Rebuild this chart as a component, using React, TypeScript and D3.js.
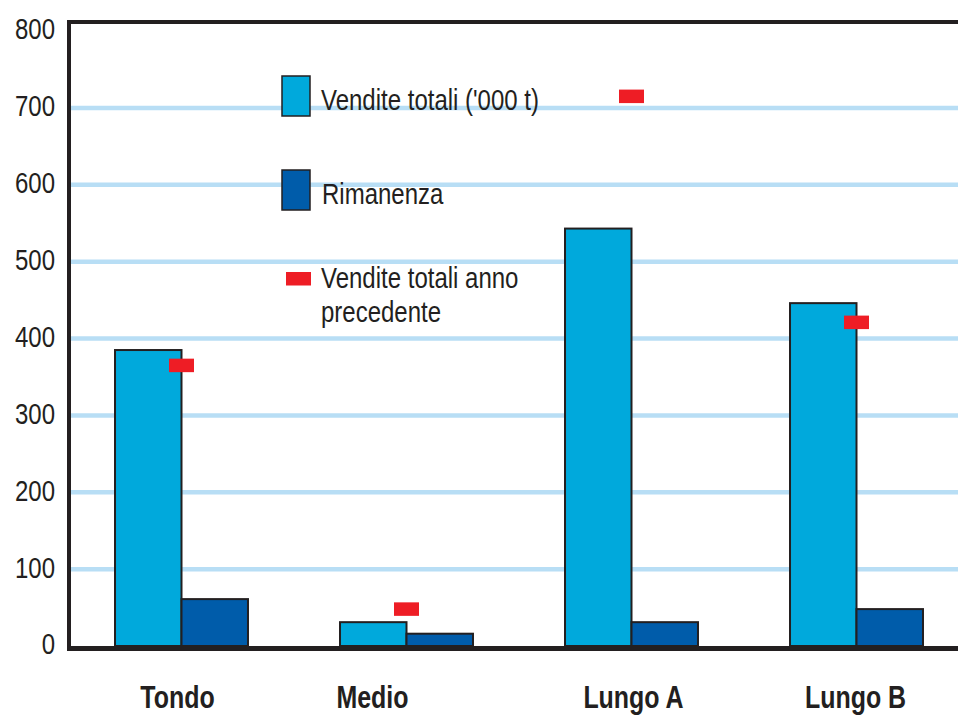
import React from "react";
import * as d3 from "d3";

// Categories and series (thousand tonnes)
const categories = ["Tondo", "Medio", "Lungo A", "Lungo B"];
const venditeTotali = [385, 31, 543, 446];
const rimanenza = [61, 16, 31, 48];
const venditePrecedenti = [365, 48, 715, 421];
const yTicks = [0, 100, 200, 300, 400, 500, 600, 700, 800];

const legendTotali = "Vendite totali ('000 t)";
const legendRimanenza = "Rimanenza";
const legendPrecedenti = ["Vendite totali anno", "precedente"];

const W = 958;
const H = 715;

const COL_LIGHT = "#00A9DC";
const COL_DARK = "#005CAA";
const COL_RED = "#EE1D25";
const COL_GRID = "#B8DEF5";
const COL_INK = "#231F20";
const FONT = "'Liberation Sans', Arial, sans-serif";
const NARROW = 0.8; // horizontal squeeze giving a condensed face

// small horizontal shifts applied to the category captions
const LABEL_DX = [-4, -34, 2, -1];

type NTextProps = {
  x: number;
  y: number;
  size: number;
  anchor?: "start" | "middle" | "end";
  weight?: string;
  baseline?: string;
  squeeze?: number;
  children: React.ReactNode;
};

function NText({ x, y, size, anchor = "start", weight = "normal", baseline, squeeze = NARROW, children }: NTextProps) {
  return (
    <text
      transform={`translate(${x},${y}) scale(${squeeze},1)`}
      textAnchor={anchor}
      fontSize={size}
      fontWeight={weight}
      dominantBaseline={baseline}
      fill={COL_INK}
    >
      {children}
    </text>
  );
}

export default function App() {
  const x = d3
    .scaleBand<string>()
    .domain(categories)
    .range([69, 969])
    .paddingInner(0.409)
    .paddingOuter(0.2045);
  const sub = d3
    .scaleBand<string>()
    .domain(["tot", "rim"])
    .range([0, x.bandwidth()]);
  const y = d3.scaleLinear().domain([0, 800]).range([646, 31]);

  const markW = 25;
  const markH = 13.5;
  const frameTop = y(800) - 9;
  const frameBottom = y(0) + 2.5;

  return (
    <svg
      width={W}
      height={H}
      style={{ position: "absolute", left: 0, top: 0, display: "block", background: "#fff" }}
      fontFamily={FONT}
    >
      <rect x={0} y={0} width={W} height={H} fill="#fff" />

      {/* horizontal gridlines */}
      {yTicks
        .filter((t) => t > 0 && t < 800)
        .map((t) => (
          <line key={t} x1={71} x2={W} y1={y(t)} y2={y(t)} stroke={COL_GRID} strokeWidth={4.5} />
        ))}

      {/* y tick labels */}
      {yTicks.map((t) => (
        <NText key={t} x={55} y={y(t) - 2} size={30} anchor="end" baseline="central">
          {t}
        </NText>
      ))}

      {/* legend */}
      <rect x={282} y={76} width={28} height={40} fill={COL_LIGHT} stroke={COL_INK} strokeWidth={1.5} />
      <NText x={321} y={110} size={30}>
        {legendTotali}
      </NText>
      <rect x={282} y={170} width={28} height={40} fill={COL_DARK} stroke={COL_INK} strokeWidth={1.5} />
      <NText x={322} y={204} size={30}>
        {legendRimanenza}
      </NText>
      <rect x={286} y={272} width={markW} height={markH} fill={COL_RED} />
      {legendPrecedenti.map((line, i) => (
        <NText key={line} x={321} y={288 + i * 34} size={30}>
          {line}
        </NText>
      ))}

      {/* bars */}
      {categories.map((c, i) => {
        const gx = x(c) as number;
        const bw = sub.bandwidth();
        return (
          <g key={c}>
            <rect
              x={gx + (sub("tot") as number)}
              y={y(venditeTotali[i])}
              width={bw}
              height={y(0) - y(venditeTotali[i])}
              fill={COL_LIGHT}
              stroke={COL_INK}
              strokeWidth={2}
            />
            <rect
              x={gx + (sub("rim") as number)}
              y={y(rimanenza[i])}
              width={bw}
              height={y(0) - y(rimanenza[i])}
              fill={COL_DARK}
              stroke={COL_INK}
              strokeWidth={2}
            />
          </g>
        );
      })}

      {/* previous-year markers */}
      {categories.map((c, i) => {
        const cx = (x(c) as number) + (sub("rim") as number);
        return (
          <rect
            key={c}
            x={cx - markW / 2}
            y={y(venditePrecedenti[i]) - markH / 2}
            width={markW}
            height={markH}
            fill={COL_RED}
          />
        );
      })}

      {/* frame */}
      <line x1={69} x2={69} y1={frameTop - 2} y2={frameBottom + 2.5} stroke={COL_INK} strokeWidth={4} />
      <line x1={67} x2={W} y1={frameTop} y2={frameTop} stroke={COL_INK} strokeWidth={4} />
      <line x1={67} x2={W} y1={frameBottom} y2={frameBottom} stroke={COL_INK} strokeWidth={5} />

      {/* category captions */}
      {categories.map((c, i) => (
        <NText
          key={c}
          x={(x(c) as number) + x.bandwidth() / 2 + LABEL_DX[i]}
          y={708}
          size={32}
          anchor="middle"
          weight="bold"
          squeeze={0.78}
        >
          {c}
        </NText>
      ))}
    </svg>
  );
}
